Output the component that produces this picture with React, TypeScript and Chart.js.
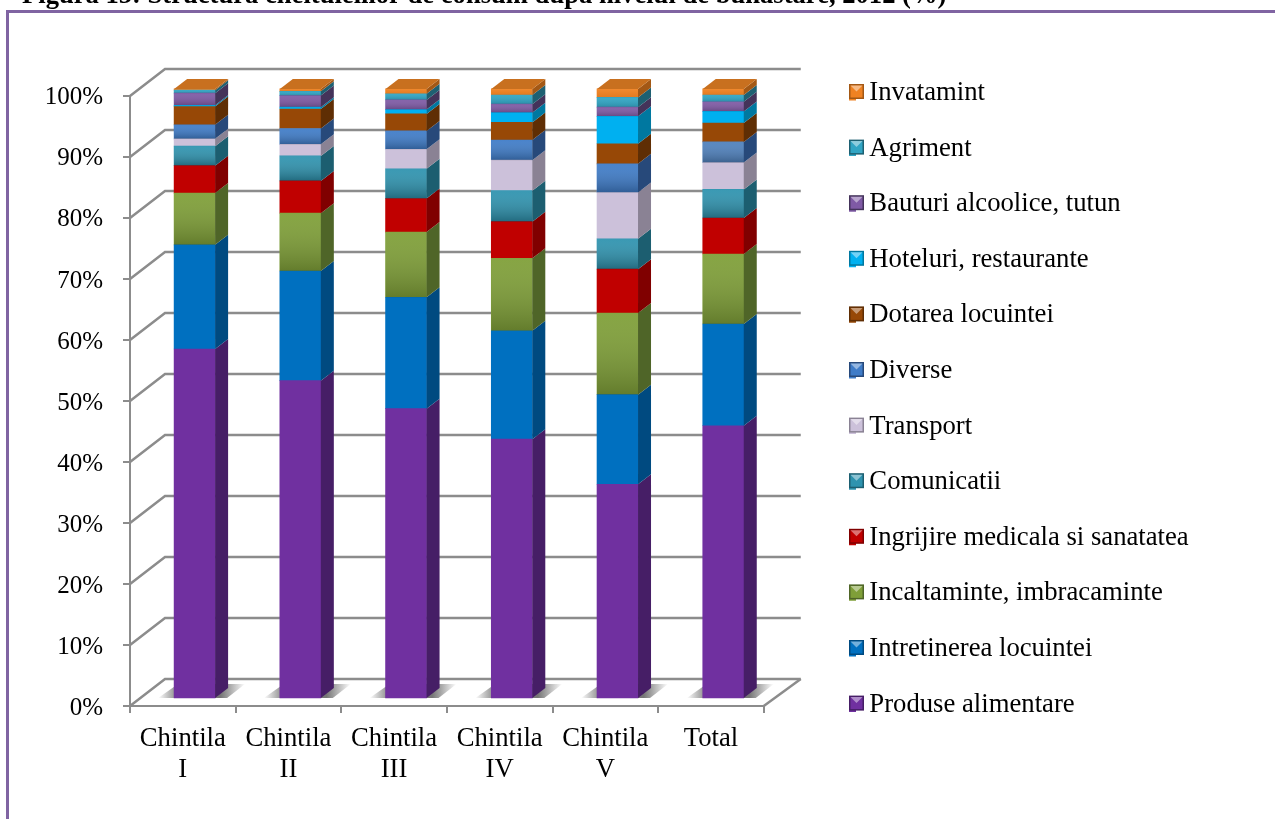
import React, { useEffect, useRef } from "react";
import { Chart, registerables } from "chart.js";

Chart.register(...registerables);

const categories = [["Chintila", "I"], ["Chintila", "II"], ["Chintila", "III"], ["Chintila", "IV"], ["Chintila", "V"], ["Total"]];
const produseAlimentare = [57.3, 52.1, 47.5, 42.5, 35.1, 44.7];
const intretinereaLocuintei = [17.1, 18.0, 18.3, 17.8, 14.7, 16.7];
const incaltaminte = [8.5, 9.5, 10.7, 11.9, 13.4, 11.5];
const ingrijireMedicala = [4.5, 5.3, 5.5, 6.0, 7.2, 5.9];
const comunicatii = [3.2, 4.1, 4.9, 5.1, 5.0, 4.7];
const transport = [1.2, 1.9, 3.2, 5.0, 7.6, 4.4];
const diverse = [2.3, 2.6, 3.0, 3.3, 4.7, 3.4];
const dotareaLocuintei = [3.0, 3.2, 2.8, 2.9, 3.3, 3.1];
const hoteluri = [0.2, 0.3, 0.7, 1.6, 4.5, 1.9];
const bauturi = [2.0, 1.9, 1.6, 1.4, 1.5, 1.6];
const agriment = [0.5, 0.7, 1.0, 1.5, 1.6, 1.1];
const invatamint = [0.2, 0.4, 0.8, 1.0, 1.4, 1.0];

const seriesNames = [
  "Produse alimentare", "Intretinerea locuintei", "Incaltaminte, imbracaminte",
  "Ingrijire medicala si sanatatea", "Comunicatii", "Transport", "Diverse",
  "Dotarea locuintei", "Hoteluri, restaurante", "Bauturi alcoolice, tutun", "Agriment", "Invatamint",
];
const seriesValues = [
  produseAlimentare, intretinereaLocuintei, incaltaminte, ingrijireMedicala, comunicatii, transport,
  diverse, dotareaLocuintei, hoteluri, bauturi, agriment, invatamint,
];
const frontColors = ["#7030A0", "#0070C0", "#7F9F38", "#C00000", "#2E93AF", "#CCC1DA", "#3F7CC8", "#974806", "#00B0F0", "#7F5AA5", "#31A5C4", "#F08222"];
const sideColors = ["#461E66", "#004A80", "#4F6528", "#800000", "#1C5E70", "#8A8294", "#27497A", "#5F2E04", "#0078A0", "#44335A", "#1E6072", "#A35815"];
const shadeAmount = [0, 0, 0.22, 0, 0.28, 0, 0.25, 0, 0, 0.2, 0.15, 0.05];
const yTicks = [0, 10, 20, 30, 40, 50, 60, 70, 80, 90, 100];

const FRAME = "#8064A2";
const GRID = "#8C8C8C";
const WALL_DX = 35;
const WALL_DY = 27;
const BAR_DX = 13;
const BAR_DY = 10;
const BAR_W = 41;
const SERIF = "'Liberation Serif', 'Times New Roman', serif";
const LEGEND_FONT = 26.7;
const LEGEND_PAD = 28.9;

const threeD = {
  id: "threeD",
  beforeDatasetsDraw(chart: any) {
    const { ctx, scales, chartArea } = chart;
    const y = scales.y;
    const { left, right, bottom } = chartArea;
    ctx.save();
    // frame
    ctx.strokeStyle = FRAME;
    ctx.lineWidth = 3;
    ctx.beginPath();
    ctx.moveTo(7.5, 819);
    ctx.lineTo(7.5, 11.5);
    ctx.lineTo(1275, 11.5);
    ctx.stroke();
    // walls
    ctx.strokeStyle = GRID;
    ctx.lineWidth = 2.5;
    yTicks.forEach((t) => {
      const py = y.getPixelForValue(t);
      ctx.beginPath();
      ctx.moveTo(left, py);
      ctx.lineTo(left + WALL_DX, py - WALL_DY);
      ctx.lineTo(right + WALL_DX + 2, py - WALL_DY);
      ctx.stroke();
    });
    ctx.beginPath();
    ctx.moveTo(right, bottom);
    ctx.lineTo(right + WALL_DX + 2, bottom - WALL_DY);
    ctx.stroke();
    // bar floor shadows
    const first = chart.getDatasetMeta(0).data;
    first.forEach((bar: any) => {
      const l = bar.x - BAR_W / 2;
      const b = bar.base;
      const g = ctx.createLinearGradient(l - 16, 0, l + BAR_W + 30, 0);
      g.addColorStop(0, "rgba(110,110,110,0)");
      g.addColorStop(0.2, "rgba(110,110,110,0.75)");
      g.addColorStop(0.72, "rgba(110,110,110,0.95)");
      g.addColorStop(1, "rgba(110,110,110,0)");
      ctx.fillStyle = g;
      ctx.beginPath();
      ctx.moveTo(l - 16, b);
      ctx.lineTo(l + BAR_W + 12, b);
      ctx.lineTo(l + BAR_W + 30, b - 14);
      ctx.lineTo(l + 4, b - 14);
      ctx.closePath();
      ctx.fill();
    });
    ctx.restore();
  },
  afterDatasetsDraw(chart: any) {
    const { ctx } = chart;
    ctx.save();
    const n = seriesValues.length;
    for (let d = 0; d < n; d++) {
      chart.getDatasetMeta(d).data.forEach((bar: any) => {
        const l = bar.x - BAR_W / 2;
        const r = bar.x + BAR_W / 2;
        const top = bar.y;
        const base = bar.base;
        // side face
        ctx.fillStyle = sideColors[d];
        ctx.beginPath();
        ctx.moveTo(r, base);
        ctx.lineTo(r + BAR_DX, base - BAR_DY);
        ctx.lineTo(r + BAR_DX, top - BAR_DY);
        ctx.lineTo(r, top);
        ctx.closePath();
        ctx.fill();
        // vertical shading of the front face
        if (shadeAmount[d] > 0 && base - top > 1) {
          const g = ctx.createLinearGradient(0, top, 0, base);
          g.addColorStop(0, "rgba(255,255,255,0.06)");
          g.addColorStop(1, `rgba(0,0,0,${shadeAmount[d]})`);
          ctx.fillStyle = g;
          ctx.fillRect(l, top, BAR_W, base - top);
        }
        // top face of the stack
        if (d === n - 1) {
          ctx.fillStyle = "#C8701F";
          ctx.beginPath();
          ctx.moveTo(l, top);
          ctx.lineTo(l + BAR_DX, top - BAR_DY);
          ctx.lineTo(r + BAR_DX, top - BAR_DY);
          ctx.lineTo(r, top);
          ctx.closePath();
          ctx.fill();
        }
      });
    }
    ctx.restore();
  },
  afterLayout(chart: any) {
    const legend = chart.legend;
    legend.left = 849 - LEGEND_PAD;
    legend.right = 1275;
    legend.width = legend.right - legend.left;
    legend.top = 50.7;
    legend.bottom = 819;
    legend.height = legend.bottom - legend.top;
  },
  afterDraw(chart: any) {
    // bevelled legend keys
    const { ctx, legend } = chart;
    ctx.save();
    const count = seriesNames.length;
    for (let idx = 0; idx < count; idx++) {
      const d = count - 1 - idx;
      const s = 15;
      const x = legend.left + LEGEND_PAD;
      const y = legend.top + LEGEND_PAD + idx * (LEGEND_FONT + LEGEND_PAD) + 4.4;
      ctx.fillStyle = sideColors[d];
      ctx.fillRect(x, y, s, s);
      ctx.fillStyle = frontColors[d];
      ctx.fillRect(x + 1.5, y + 1.5, s - 3, s - 3);
      ctx.fillStyle = "rgba(255,255,255,0.45)";
      ctx.beginPath();
      ctx.moveTo(x + 1.5, y + 1.5);
      ctx.lineTo(x + s - 1.5, y + 1.5);
      ctx.lineTo(x + s / 2, y + s / 2);
      ctx.closePath();
      ctx.fill();
    }
    ctx.restore();
  },
};

export default function App() {
  const ref = useRef<HTMLCanvasElement>(null);
  useEffect(() => {
    const chart = new Chart(ref.current!, {
      type: "bar",
      data: {
        labels: categories as any,
        datasets: seriesNames.map((name, d) => ({
          label: name,
          data: seriesValues[d].map((v, i) => ({ x: i, y: v })),
          backgroundColor: seriesValues[d].map((_, i) => (d === 6 && i === 5 ? "#4F81BD" : frontColors[d])),
          borderWidth: 0,
          barThickness: BAR_W,
          xAxisID: "xb",
          yAxisID: "yb",
          clip: false as any,
        })),
      },
      options: {
        animation: false,
        responsive: false,
        devicePixelRatio: 1,
        layout: { padding: { left: 22, right: 264, top: 0, bottom: 0 } },
        scales: {
          x: {
            type: "category",
            labels: categories as any,
            offset: true,
            position: "bottom",
            afterFit: (s: any) => { s.height = 113; },
            grid: { offset: true, drawOnChartArea: false, drawTicks: true, tickLength: 7, color: GRID, lineWidth: 2 },
            border: { color: GRID, width: 2 },
            ticks: { color: "#000", font: { family: SERIF, size: 26.7, lineHeight: 1.17 }, padding: 10, maxRotation: 0, autoSkip: false },
          },
          y: {
            type: "linear",
            min: 0,
            max: 100,
            position: "left",
            afterFit: (s: any) => { s.width = 108; },
            grid: { drawOnChartArea: false, drawTicks: true, tickLength: 7, color: GRID, lineWidth: 2 },
            border: { color: GRID, width: 2 },
            ticks: { stepSize: 10, color: "#000", font: { family: SERIF, size: 25 }, padding: 20, labelOffset: 2, callback: (v: any) => `${v}%` },
          },
          xb: { type: "linear", display: false, offset: false, min: -0.611, max: 5.383, stacked: true, position: "bottom" },
          yb: { type: "linear", display: false, min: -1.314, max: 98.85, stacked: true, position: "left" },
        },
        plugins: {
          tooltip: { enabled: false },
          title: {
            display: true,
            text: "Figura 15: Structura cheltuielilor de consum dupa nivelul de bunastare, 2012 (%)",
            align: "start",
            color: "#000",
            font: { family: SERIF, size: 26.6, weight: "bold" },
            padding: { top: -20, bottom: 84 },
          },
          legend: {
            display: true,
            position: "right",
            reverse: true,
            align: "start",
            labels: {
              color: "#000",
              font: { family: SERIF, size: LEGEND_FONT },
              boxWidth: 7,
              boxHeight: 15,
              padding: LEGEND_PAD,
              generateLabels: () =>
                seriesNames.map((name, d) => ({
                  text: name,
                  fillStyle: frontColors[d],
                  strokeStyle: sideColors[d],
                  lineWidth: 0,
                  hidden: false,
                  datasetIndex: d,
                  fontColor: "#000",
                })),
            },
          },
        },
      },
      plugins: [threeD],
    } as any);
    return () => chart.destroy();
  }, []);
  return (
    <div style={{ position: "fixed", left: 0, top: 0, width: 1275, height: 819, background: "#fff", overflow: "hidden" }}>
      <canvas ref={ref} width={1275} height={819} style={{ display: "block" }} />
    </div>
  );
}
